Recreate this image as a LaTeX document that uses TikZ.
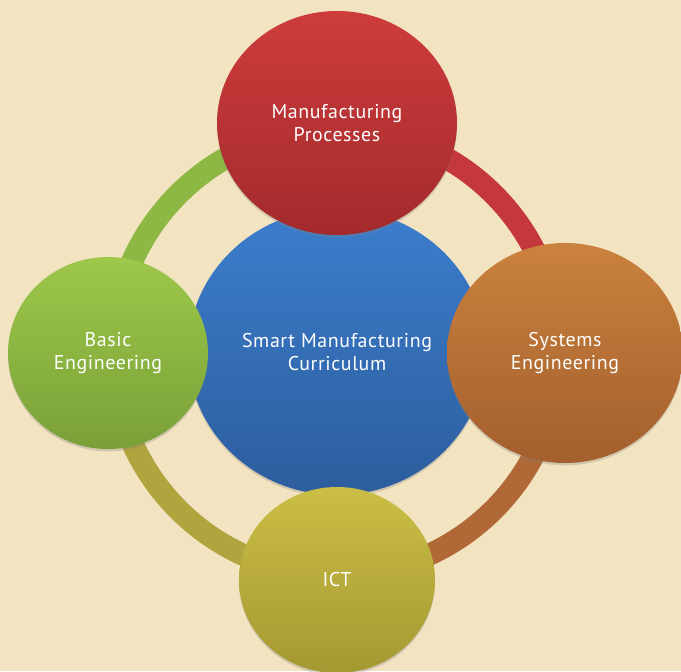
\documentclass[tikz,border=0pt]{standalone}
\usepackage{fontspec}
\setmainfont{PT Sans}[LetterSpace=3]
\usetikzlibrary{shapes.geometric,shadows}
\definecolor{parch}{RGB}{243,228,193}
\definecolor{redA}{RGB}{206,60,60}
\definecolor{redB}{RGB}{163,42,44}
\definecolor{blueA}{RGB}{60,126,205}
\definecolor{blueB}{RGB}{44,93,157}
\definecolor{greenA}{RGB}{157,200,74}
\definecolor{greenB}{RGB}{122,160,56}
\definecolor{orangeA}{RGB}{203,130,62}
\definecolor{orangeB}{RGB}{163,95,45}
\definecolor{oliveA}{RGB}{203,190,70}
\definecolor{oliveB}{RGB}{164,152,50}
\definecolor{ringG}{RGB}{141,184,67}
\definecolor{ringR}{RGB}{196,56,60}
\definecolor{ringO}{RGB}{176,104,54}
\definecolor{ringY}{RGB}{176,164,62}
\tikzset{
    bubble/.style={ellipse,inner sep=0pt,align=center,text=white,
        font=\fontsize{17}{19.5}\selectfont,
        drop shadow={shadow xshift=0pt,shadow yshift=-2pt,opacity=0.3}},
    ringline/.style={line width=0.66cm},
}
\begin{document}
\begin{tikzpicture}[x=0.03cm,y=0.03cm]
        %% Background
        \fill[parch] (0,0) rectangle (681,671);
        \useasboundingbox (0,0) rectangle (681,671);
        %% Ring
        \coordinate (hub) at (336,319);
        \draw[ringline,ringR] (hub) ++(0:223) arc[start angle=0,end angle=90,radius=223];
        \draw[ringline,ringG] (hub) ++(90:223) arc[start angle=90,end angle=180,radius=223];
        \draw[ringline,ringY] (hub) ++(180:223) arc[start angle=180,end angle=270,radius=223];
        \draw[ringline,ringO] (hub) ++(270:223) arc[start angle=270,end angle=360,radius=223];
        %% Centre
        \node[bubble,top color=blueA,bottom color=blueB,
            minimum width=8.94cm,minimum height=8.58cm] (core) at (337,319)
            {Smart Manufacturing\\Curriculum};
        %% Outer circles
        \node[bubble,top color=greenA,bottom color=greenB,
            minimum width=6.0cm,minimum height=5.76cm] (basic) at (108,318)
            {Basic\\Engineering};
        \node[bubble,top color=oliveA,bottom color=oliveB,
            minimum width=5.88cm,minimum height=5.58cm] (ict) at (337,91)
            {ICT};
        \node[bubble,top color=orangeA,bottom color=orangeB,
            minimum width=7.08cm,minimum height=6.6cm] (systems) at (565,318)
            {Systems\\Engineering};
        \node[bubble,top color=redA,bottom color=redB,
            minimum width=7.2cm,minimum height=6.72cm] (manuf) at (337,548)
            {Manufacturing\\Processes};
    \end{tikzpicture}
\end{document}
